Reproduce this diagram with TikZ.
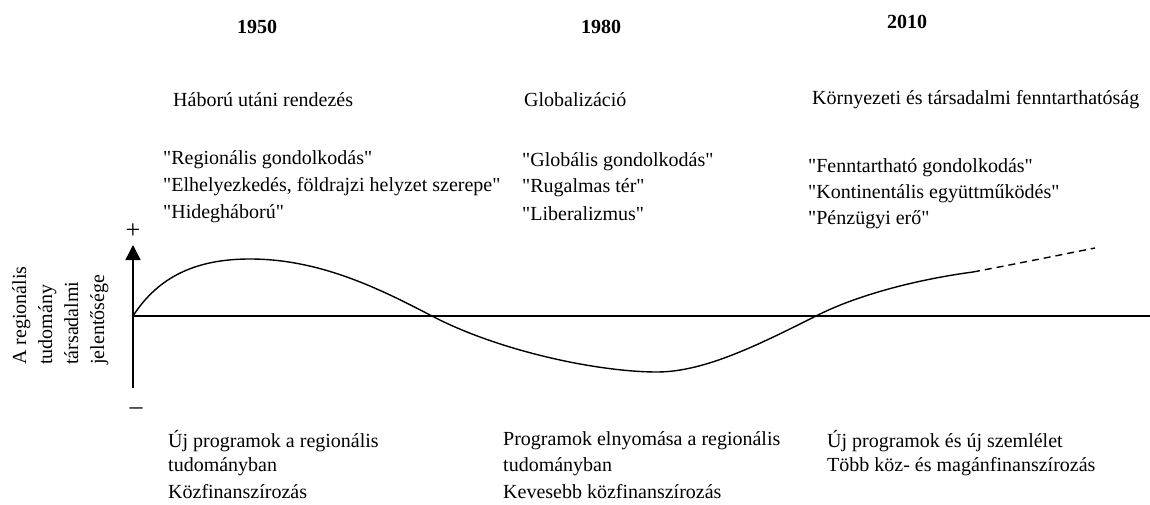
\documentclass[tikz,border=0pt]{standalone}
\usepackage{fontspec}
\setmainfont{Liberation Serif}
\usetikzlibrary{arrows.meta}
\newcommand{\qt}[1]{\textquotedbl#1\textquotedbl}
\begin{document}
\begin{tikzpicture}[x=1pt, y=1pt,
    txt/.style={font=\fontsize{20}{26}\selectfont, inner sep=0pt},
    line/.style={anchor=west, txt},
    sign/.style={txt, font=\fontsize{26}{26}\selectfont},
    year/.style={txt, font=\fontsize{20}{26}\selectfont\bfseries},
    axis/.style={line width=1.4pt},
    curve/.style={line width=1.4pt}]
    \useasboundingbox (0,0) rectangle (1150,504);

        \coordinate (orig) at (133,188);
        \coordinate (top) at (133,259);
        \coordinate (bot) at (133,116);
        \coordinate (right) at (1150,188);
    \draw[axis](orig) to (right);
    \draw[axis](bot) to (orig);
    \draw[axis, -{Triangle[width=15pt,length=15pt]}](orig) to (top);

        \node[sign] (plus) at(133, 273){+};
        \node[sign] (minus) at(136, 93){–};

        \node[txt, rotate=90, anchor=north west, align=left] (ylabel) at(12, 139){A regionális\\tudomány\\társadalmi\\jelentősége};

        \coordinate (peak) at (250,245);
        \coordinate (cross1) at (430,189);
        \coordinate (trough) at (657,132);
        \coordinate (cross2) at (818,189);
        \coordinate (now) at (973,232);
        \coordinate (future) at (1095,256);
    \draw[curve](orig) .. controls (160,230) and (200,245) .. (peak)
        .. controls (320,245) and (380,215) .. (cross1)
        .. controls (500,152) and (600,132) .. (trough)
        .. controls (705,132) and (760,160) .. (cross2)
        .. controls (860,210) and (920,225) .. (now);
    \draw[curve, dash pattern=on 7pt off 5pt](now) .. controls (1010,239) and (1050,247) .. (future);

        \node[year] (y1950) at(257, 477){1950};
        \node[year] (y1980) at(601, 477){1980};
        \node[year] (y2010) at(907, 482){2010};

        \node[line] (era1) at(173, 404){Háború utáni rendezés};
        \node[line] (era2) at(524, 404){Globalizáció};
        \node[line] (era3) at(812, 404){Környezeti és társadalmi fenntarthatóság};

        \node[line] (a1) at(163, 344){\qt{Regionális gondolkodás}};
        \node[line] (a2) at(163, 317){\qt{Elhelyezkedés, földrajzi helyzet szerepe}};
        \node[line] (a3) at(163, 290){\qt{Hidegháború}};

        \node[line] (b1) at(522, 342){\qt{Globális gondolkodás}};
        \node[line] (b2) at(522, 316){\qt{Rugalmas tér}};
        \node[line] (b3) at(522, 290){\qt{Liberalizmus}};

        \node[line] (c1) at(808, 336){\qt{Fenntartható gondolkodás}};
        \node[line] (c2) at(808, 310){\qt{Kontinentális együttműködés}};
        \node[line] (c3) at(808, 284){\qt{Pénzügyi erő}};

        \node[line] (p1) at(168, 63){Új programok a regionális};
        \node[line] (p2) at(168, 37){tudományban};
        \node[line] (p3) at(168, 12){Közfinanszírozás};

        \node[line] (q1) at(503, 63){Programok elnyomása a regionális};
        \node[line] (q2) at(503, 37){tudományban};
        \node[line] (q3) at(503, 12){Kevesebb közfinanszírozás};

        \node[line] (r1) at(827, 63){Új programok és új szemlélet};
        \node[line] (r2) at(827, 37){Több köz- és magánfinanszírozás};
            \end{tikzpicture}
\end{document}
